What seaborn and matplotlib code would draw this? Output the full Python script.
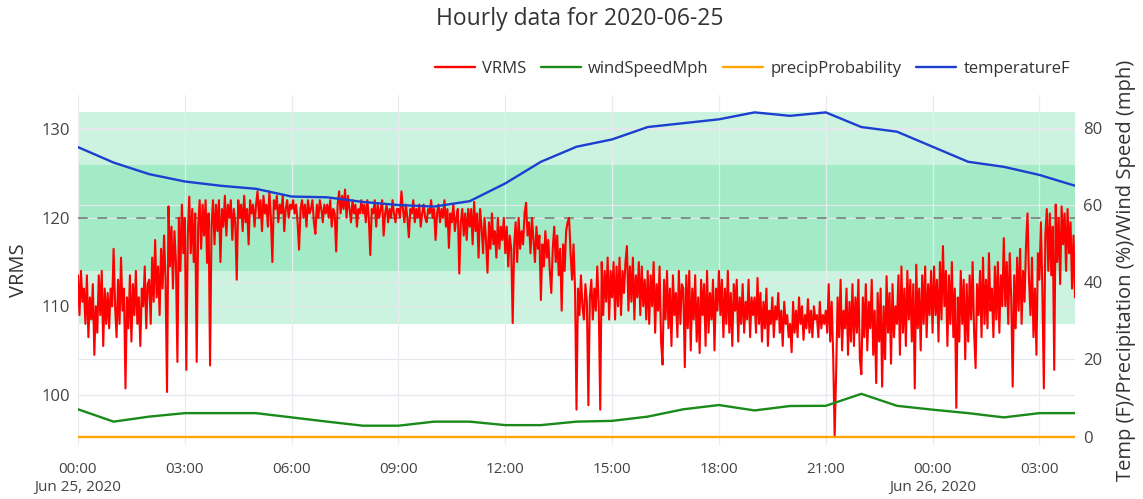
import matplotlib
matplotlib.use("Agg")
import matplotlib.pyplot as plt
from matplotlib.lines import Line2D
import pandas as pd
import seaborn as sns

# ---------------- data ----------------
start = "2020-06-25 00:00"
title = "Hourly data for 2020-06-25"

# hourly weather series (00:00 Jun 25 .. 04:00 Jun 26)
temperatureF = [75.0, 71.0, 68.0, 66.1, 65.0, 64.2, 62.2, 62.0, 60.8, 60.0,
                59.6, 61.0, 65.6, 71.2, 75.1, 77.0, 80.2, 81.2, 82.2, 84.0,
                83.1, 84.0, 80.2, 79.0, 75.1, 71.2, 69.9, 67.8, 65.0]
windSpeedMph = [7.1, 3.9, 5.2, 6.1, 6.1, 6.1, 5.0, 3.9, 2.85, 2.85,
                3.9, 3.9, 3.0, 3.0, 3.9, 4.1, 5.2, 7.1, 8.2, 6.8,
                7.95, 8.0, 11.1, 8.0, 7.0, 6.1, 5.0, 6.1, 6.1]
precipProbability = [0, 0, 0, 0, 0, 0, 0, 0, 0, 0, 0, 0, 0, 0, 0,
                     0, 0, 0, 0, 0, 0, 0, 0, 0, 0, 0, 0, 0, 0]

# VRMS, 2.5-minute samples, one row per hour
vrms_rows = [
    [113.5, 109, 114, 110.5, 112, 108, 113.5, 106.5, 111, 108.5, 112.5, 104.5, 110, 107, 113.5, 109, 114, 105.5, 112, 108, 111.5, 107.5, 112, 110],
    [116.5, 110, 106.5, 113, 108, 115.5, 109.5, 112, 100.7, 111, 107.5, 113.5, 106, 112.5, 109, 114, 108, 111, 105.5, 112, 110, 114.5, 107.5, 112.5],
    [113, 108, 115.5, 110.5, 117.5, 111, 114.5, 109, 116.5, 112, 118, 113, 100.3, 121.3, 114.5, 119, 112, 118.5, 115, 103.7, 120, 114, 121.5, 116],
    [120, 102.8, 118, 122.4, 116, 121, 115, 120.5, 103.7, 119, 122, 116.5, 121.5, 118, 122, 114.9, 120.5, 103.3, 119, 122, 117, 121.5, 118.5, 122],
    [115, 121, 119, 122.5, 118, 121.5, 120, 122, 117.5, 121, 119.5, 113, 122, 120, 121.5, 118.5, 122.5, 119.5, 121, 117, 122, 120.5, 121.5, 119],
    [121.5, 123, 120, 122, 118.5, 122.5, 120.5, 121.5, 119, 123, 120, 115, 122, 121, 122.5, 119.5, 121.5, 120.5, 122.5, 118.5, 121, 122, 120, 121.5],
    [121, 122, 120.5, 121.5, 119.5, 116.4, 121, 122, 120, 121.5, 119, 122, 120.5, 121, 122, 119.5, 118.2, 121.5, 120, 122, 121, 119.5, 121.5, 120.5],
    [121.5, 120, 122, 119, 121, 120.5, 116.2, 121.5, 123, 120.5, 122.5, 121, 123.2, 120, 122.5, 121, 119.5, 122, 120.5, 121.5, 119, 121, 120.5, 122],
    [120.5, 121.5, 119.5, 122, 120, 115.8, 121, 120.5, 122, 119, 121.5, 120, 121, 122, 118, 120.5, 121.5, 119.5, 121, 120, 122, 120.5, 119.5, 121],
    [121, 120, 123, 121, 119.5, 121.5, 120, 117.8, 121, 120.5, 122, 119.5, 121, 120, 121.5, 119, 120.5, 121.5, 120, 119.5, 121, 120.5, 122, 120],
    [121, 117.5, 120.5, 121.5, 119.5, 121, 120, 122, 119, 121, 116.6, 120.5, 119.5, 121.5, 118.5, 120, 121, 113.7, 119.5, 121, 118, 120.5, 117.5, 121],
    [119, 121, 117, 121.8, 118.5, 120.5, 115.5, 121, 119, 116, 120, 117.5, 113.8, 119.5, 116.5, 120.5, 117, 118.5, 115.5, 120, 116.5, 119, 117.5, 120],
    [116, 119, 114.5, 118, 116.5, 108.1, 117, 119.5, 115, 120, 116.5, 118.5, 117, 120.5, 121.7, 118, 119.5, 116, 120, 117.5, 115, 119, 116.5, 118],
    [110.7, 117, 114.5, 118.5, 115.5, 117.5, 114, 111.5, 116.5, 119, 115, 118, 113.5, 116.5, 109.5, 117, 114, 118.5, 119.5, 120, 116, 113, 117, 112],
    [98.3, 112, 109, 113.5, 110, 108.5, 112.5, 110.5, 98.8, 111, 113, 108.5, 112, 109.5, 114.5, 110, 98.3, 115, 109, 114, 110.5, 115.5, 108.5, 114],
    [111, 115, 108.5, 114.5, 110, 115.5, 109, 114, 111.5, 115, 116.8, 109.5, 114.5, 110.5, 115.5, 108.5, 113.5, 111, 115, 109, 114.5, 110, 113, 108.5],
    [114, 108, 113.5, 110, 115, 107, 112.5, 109.5, 114.5, 106, 103.4, 113, 108.5, 114, 107.5, 112, 105.5, 113.5, 109, 111.5, 106.5, 114, 108, 112.5],
    [112, 103.1, 113.5, 107.5, 114, 105, 112, 108.5, 113.5, 106, 111, 104.7, 113, 109, 112.5, 105.5, 114, 107, 111.5, 108.5, 113, 105, 112, 109.5],
    [114, 109, 113, 106.5, 112, 108, 114, 107, 111.5, 105.5, 112.5, 109.5, 113, 106, 111, 108, 112.5, 107, 110.5, 108.5, 113, 106.5, 111, 109],
    [111, 107, 113.2, 108, 111.5, 106, 110.5, 107.5, 112, 105.5, 109.5, 108, 111, 106.5, 110, 108.5, 111.5, 107, 109.5, 105.5, 110.5, 108, 109, 106.5],
    [108, 104.8, 110.5, 107, 109.5, 106.5, 111, 108, 110, 106.2, 109, 107.5, 110.8, 107, 109.5, 106.5, 110, 108.5, 109, 106.5, 110.5, 107.5, 109, 108],
    [109.5, 107, 112.5, 106, 110.5, 104.5, 95.2, 102.5, 111, 106.5, 113, 105, 109.5, 107.5, 112, 104.5, 110.5, 106, 112.5, 105.5, 111, 107, 113, 104],
    [102.3, 111, 106.5, 112.5, 105, 110.5, 107.5, 113, 104.5, 109.5, 101.3, 111.5, 106, 112, 100.9, 110, 104, 113.4, 107, 111.5, 103.5, 112.5, 106.5, 110],
    [108, 113.5, 104.5, 114.5, 107, 112, 105.5, 114, 108.5, 113, 106, 112.5, 100.7, 114.7, 107.5, 112, 105, 113.5, 108, 114.5, 106.5, 112.5, 109, 114],
    [107, 114.5, 109, 113, 106, 115, 108.5, 116.8, 110, 114, 105.5, 113.5, 108, 115, 106.5, 112, 98.5, 111, 106, 114, 108, 113, 104, 112.5],
    [106, 113.5, 108.5, 115, 107, 103, 112.5, 109, 114, 106.5, 115.5, 108, 113, 107.5, 116, 109.5, 112, 106.5, 114.5, 108.5, 115, 107, 113.5, 110],
    [117.7, 110, 115, 108, 116, 111, 100.9, 113.5, 107.5, 115.5, 109.5, 116.5, 108, 114, 110.5, 117, 120.5, 113, 109, 115.5, 106.5, 112, 104.5, 116],
    [113, 119.5, 112, 100.7, 118, 121, 114, 120.5, 113.5, 119, 102.8, 121.5, 115, 120, 112.5, 121.3, 117, 120.5, 114, 121, 116, 119.5, 112, 118],
    [111],
]

band_outer = (108, 132)
band_inner = (114, 126)
nominal = 120

left_ticks = [100, 110, 120, 130]
right_ticks = [0, 20, 40, 60, 80]
x_tick_times = ["2020-06-25 00:00", "2020-06-25 03:00", "2020-06-25 06:00",
                "2020-06-25 09:00", "2020-06-25 12:00", "2020-06-25 15:00",
                "2020-06-25 18:00", "2020-06-25 21:00", "2020-06-26 00:00",
                "2020-06-26 03:00"]
x_tick_labels = ["00:00\nJun 25, 2020", "03:00", "06:00", "09:00", "12:00",
                 "15:00", "18:00", "21:00", "00:00\nJun 26, 2020", "03:00"]

# ---------------- frames ----------------
vrms = [v for row in vrms_rows for v in row]
df_v = pd.DataFrame({"time": pd.date_range(start, periods=len(vrms), freq="150s"),
                     "VRMS": vrms})
df_w = pd.DataFrame({"time": pd.date_range(start, periods=len(temperatureF), freq="h"),
                     "temperatureF": temperatureF,
                     "windSpeedMph": windSpeedMph,
                     "precipProbability": precipProbability})

# ---------------- style ----------------
sns.set_theme(style="white")
plt.rcParams["font.family"] = ["Open Sans", "DejaVu Sans"]
tick_col = "#444444"
text_col = "#333333"

fig = plt.figure(figsize=(11.43, 4.99), dpi=100)
ax = fig.add_axes([78 / 1143, 1 - 445 / 499, (1075 - 78) / 1143, (445 - 95) / 499])
ax2 = ax.twinx()

ylim_l = (94.3, 133.9)
ylim_r = (-2.15, 88.5)

# bands and reference line
ax.axhspan(*band_outer, color=(0.0, 0.78, 0.39), alpha=0.2, lw=0, zorder=0)
ax.axhspan(*band_inner, color=(0.0, 0.78, 0.39), alpha=0.2, lw=0, zorder=0)
ax.axhline(nominal, color="#7f8f86", lw=1.4, ls=(0, (5, 5)), zorder=1)

# grid lines (left and right axis ticks), drawn below the data
for t in left_ticks:
    ax.axhline(t, color="#e4e8ee", lw=0.9, zorder=0.5)
for r in right_ticks[1:]:
    lv = ylim_l[0] + (r - ylim_r[0]) * (ylim_l[1] - ylim_l[0]) / (ylim_r[1] - ylim_r[0])
    ax.axhline(lv, color="#e4e8ee", lw=0.9, zorder=0.5)
xt = pd.to_datetime(x_tick_times)
for t in xt:
    ax.axvline(t, color="#e8ecf0", lw=0.9, zorder=0.5)

sns.lineplot(data=df_v, x="time", y="VRMS", ax=ax, color="#ff0000", lw=1.5,
             legend=False, zorder=3)
sns.lineplot(data=df_w, x="time", y="windSpeedMph", ax=ax2, color="#1a8a1a", lw=1.7, legend=False)
sns.lineplot(data=df_w, x="time", y="precipProbability", ax=ax2, color="#ffa500", lw=1.7, legend=False)
sns.lineplot(data=df_w, x="time", y="temperatureF", ax=ax2, color="#1c3fd0", lw=1.7, legend=False)

ax.set_xlim(df_w["time"].iloc[0], df_w["time"].iloc[-1])
ax.set_ylim(*ylim_l)
ax2.set_ylim(*ylim_r)

ax.set_xticks(xt)
ax.set_xticklabels(x_tick_labels, fontsize=11, color=tick_col, linespacing=1.3, ha="center")
ax.set_yticks(left_ticks)
ax.set_yticklabels([str(t) for t in left_ticks], fontsize=12, color=tick_col)
ax2.set_yticks(right_ticks)
ax2.set_yticklabels([str(t) for t in right_ticks], fontsize=12, color=tick_col)
ax.tick_params(axis="y", length=0, pad=6)
ax.tick_params(axis="x", length=0, pad=12)
ax2.tick_params(axis="y", length=0, pad=6)

ax.set_xlabel("")
ax.set_ylabel("VRMS", fontsize=14.5, color=text_col, labelpad=9)
ax2.set_ylabel("Temp (F)/Precipitation (%)/Wind Speed (mph)", fontsize=14.5,
               color=text_col, labelpad=10)

for a in (ax, ax2):
    for s in a.spines.values():
        s.set_visible(False)
    a.grid(False)

fig.text(580 / 1143, 1 - 19 / 499, title, ha="center", va="center",
         fontsize=16.5, color=text_col)

handles = [Line2D([], [], color="#ff0000", lw=1.7),
           Line2D([], [], color="#1a8a1a", lw=1.7),
           Line2D([], [], color="#ffa500", lw=1.7),
           Line2D([], [], color="#1c3fd0", lw=1.7)]
labels = ["VRMS", "windSpeedMph", "precipProbability", "temperatureF"]
fig.legend(handles, labels, loc="center right", bbox_to_anchor=(1070 / 1143, 1 - 69 / 499),
           ncol=4, frameon=False, fontsize=12, handlelength=2.4, handletextpad=0.45,
           columnspacing=0.85, labelcolor=text_col, borderaxespad=0, borderpad=0)

fig.savefig("out.png", dpi=100)
